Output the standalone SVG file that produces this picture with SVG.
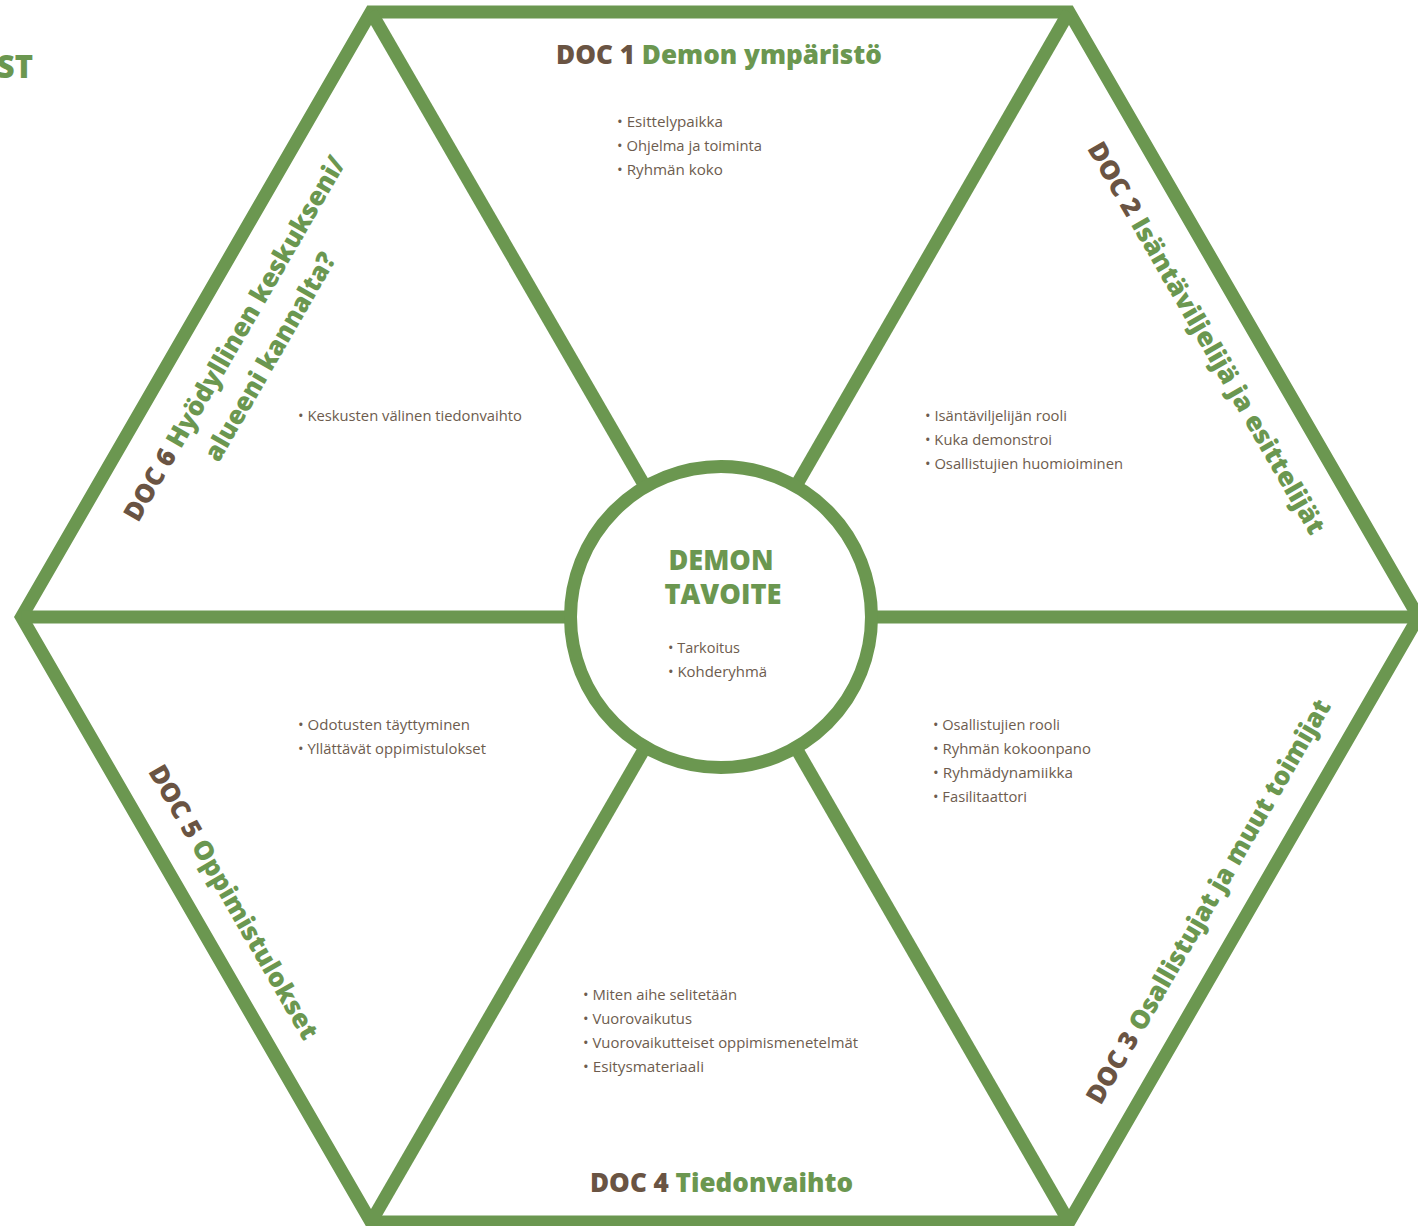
<svg xmlns="http://www.w3.org/2000/svg" width="1418" height="1226" viewBox="0 0 1418 1226">
<style>
.frame{fill:none;stroke:#6b9750;stroke-width:13;stroke-linejoin:miter;stroke-miterlimit:10}
.title{font-family:"Open Sans","Noto Sans",sans-serif;font-weight:800;font-size:26px;fill:#6b9750}
.doc{fill:#6a5443}
.item{font-family:"Open Sans","Noto Sans",sans-serif;font-size:15px;fill:#6d5c4e}
.center{font-family:"Open Sans","Noto Sans",sans-serif;font-weight:800;font-size:28px;fill:#6b9750}
</style>
<rect width="1418" height="1226" fill="#ffffff"/>
<text x="33" y="78" text-anchor="end" class="title" style="font-size:31px">ST</text>
<g id="connectors">
<polygon class="frame" points="371,12 1069,12 1418.5,617 1069,1222 371,1222 21.5,617"/>
<line class="frame" x1="720.5" y1="617" x2="371" y2="12"/>
<line class="frame" x1="720.5" y1="617" x2="1069" y2="12"/>
<line class="frame" x1="720.5" y1="617" x2="1418.5" y2="617"/>
<line class="frame" x1="720.5" y1="617" x2="1069" y2="1222"/>
<line class="frame" x1="720.5" y1="617" x2="371" y2="1222"/>
<line class="frame" x1="720.5" y1="617" x2="21.5" y2="617"/>
</g>
<g id="center">
<circle cx="721" cy="617" r="150.5" fill="#ffffff" stroke="#6b9750" stroke-width="13"/>
<text class="center" x="721" y="570" text-anchor="middle" textLength="105" lengthAdjust="spacingAndGlyphs">DEMON</text>
<text class="center" x="723" y="604" text-anchor="middle" textLength="117" lengthAdjust="spacingAndGlyphs">TAVOITE</text>
<text class="item" x="668" y="652.5" textLength="72" lengthAdjust="spacingAndGlyphs">• Tarkoitus</text>
<text class="item" x="668" y="676.5" textLength="99" lengthAdjust="spacingAndGlyphs">• Kohderyhmä</text>
</g>
<g id="doc1">
<text class="title" x="719" y="64" text-anchor="middle" textLength="326" lengthAdjust="spacingAndGlyphs"><tspan class="doc">DOC 1 </tspan>Demon ympäristö</text>
<text class="item" x="617" y="127" textLength="106" lengthAdjust="spacingAndGlyphs">• Esittelypaikka</text>
<text class="item" x="617" y="151" textLength="145" lengthAdjust="spacingAndGlyphs">• Ohjelma ja toiminta</text>
<text class="item" x="617" y="175" textLength="106" lengthAdjust="spacingAndGlyphs">• Ryhmän koko</text>
</g>
<g id="doc2">
<text class="title" transform="translate(1206.5,338) rotate(60)" x="0" y="9" text-anchor="middle" textLength="448" lengthAdjust="spacingAndGlyphs"><tspan class="doc">DOC 2 </tspan>Isäntäviljelijä ja esittelijät</text>
<text class="item" x="925" y="421" textLength="142" lengthAdjust="spacingAndGlyphs">• Isäntäviljelijän rooli</text>
<text class="item" x="925" y="445" textLength="127" lengthAdjust="spacingAndGlyphs">• Kuka demonstroi</text>
<text class="item" x="925" y="469" textLength="198" lengthAdjust="spacingAndGlyphs">• Osallistujien huomioiminen</text>
</g>
<g id="doc3">
<text class="title" transform="translate(1208.5,901.5) rotate(-60)" x="0" y="9" text-anchor="middle" textLength="462" lengthAdjust="spacingAndGlyphs"><tspan class="doc">DOC 3 </tspan>Osallistujat ja muut toimijat</text>
<text class="item" x="933" y="730" textLength="127" lengthAdjust="spacingAndGlyphs">• Osallistujien rooli</text>
<text class="item" x="933" y="754" textLength="158" lengthAdjust="spacingAndGlyphs">• Ryhmän kokoonpano</text>
<text class="item" x="933" y="778" textLength="140" lengthAdjust="spacingAndGlyphs">• Ryhmädynamiikka</text>
<text class="item" x="933" y="802" textLength="94" lengthAdjust="spacingAndGlyphs">• Fasilitaattori</text>
</g>
<g id="doc4">
<text class="title" x="721.5" y="1192" text-anchor="middle" textLength="263" lengthAdjust="spacingAndGlyphs"><tspan class="doc">DOC 4 </tspan>Tiedonvaihto</text>
<text class="item" x="583" y="1000" textLength="154" lengthAdjust="spacingAndGlyphs">• Miten aihe selitetään</text>
<text class="item" x="583" y="1024" textLength="109" lengthAdjust="spacingAndGlyphs">• Vuorovaikutus</text>
<text class="item" x="583" y="1048" textLength="275" lengthAdjust="spacingAndGlyphs">• Vuorovaikutteiset oppimismenetelmät</text>
<text class="item" x="583" y="1072" textLength="121" lengthAdjust="spacingAndGlyphs">• Esitysmateriaali</text>
</g>
<g id="doc5">
<text class="title" transform="translate(233.5,902) rotate(60)" x="0" y="9" text-anchor="middle" textLength="312" lengthAdjust="spacingAndGlyphs"><tspan class="doc">DOC 5 </tspan>Oppimistulokset</text>
<text class="item" x="298" y="730" textLength="172" lengthAdjust="spacingAndGlyphs">• Odotusten täyttyminen</text>
<text class="item" x="298" y="754" textLength="188" lengthAdjust="spacingAndGlyphs">• Yllättävät oppimistulokset</text>
</g>
<g id="doc6">
<text class="title" transform="translate(234.5,338.5) rotate(-60)" x="0" y="9" text-anchor="middle" textLength="416" lengthAdjust="spacingAndGlyphs"><tspan class="doc">DOC 6 </tspan>Hyödyllinen keskukseni/</text>
<text class="title" transform="translate(270,356.5) rotate(-60)" x="0" y="9" text-anchor="middle" textLength="236" lengthAdjust="spacingAndGlyphs">alueeni kannalta?</text>
<text class="item" x="298" y="421" textLength="224" lengthAdjust="spacingAndGlyphs">• Keskusten välinen tiedonvaihto</text>
</g>
</svg>
